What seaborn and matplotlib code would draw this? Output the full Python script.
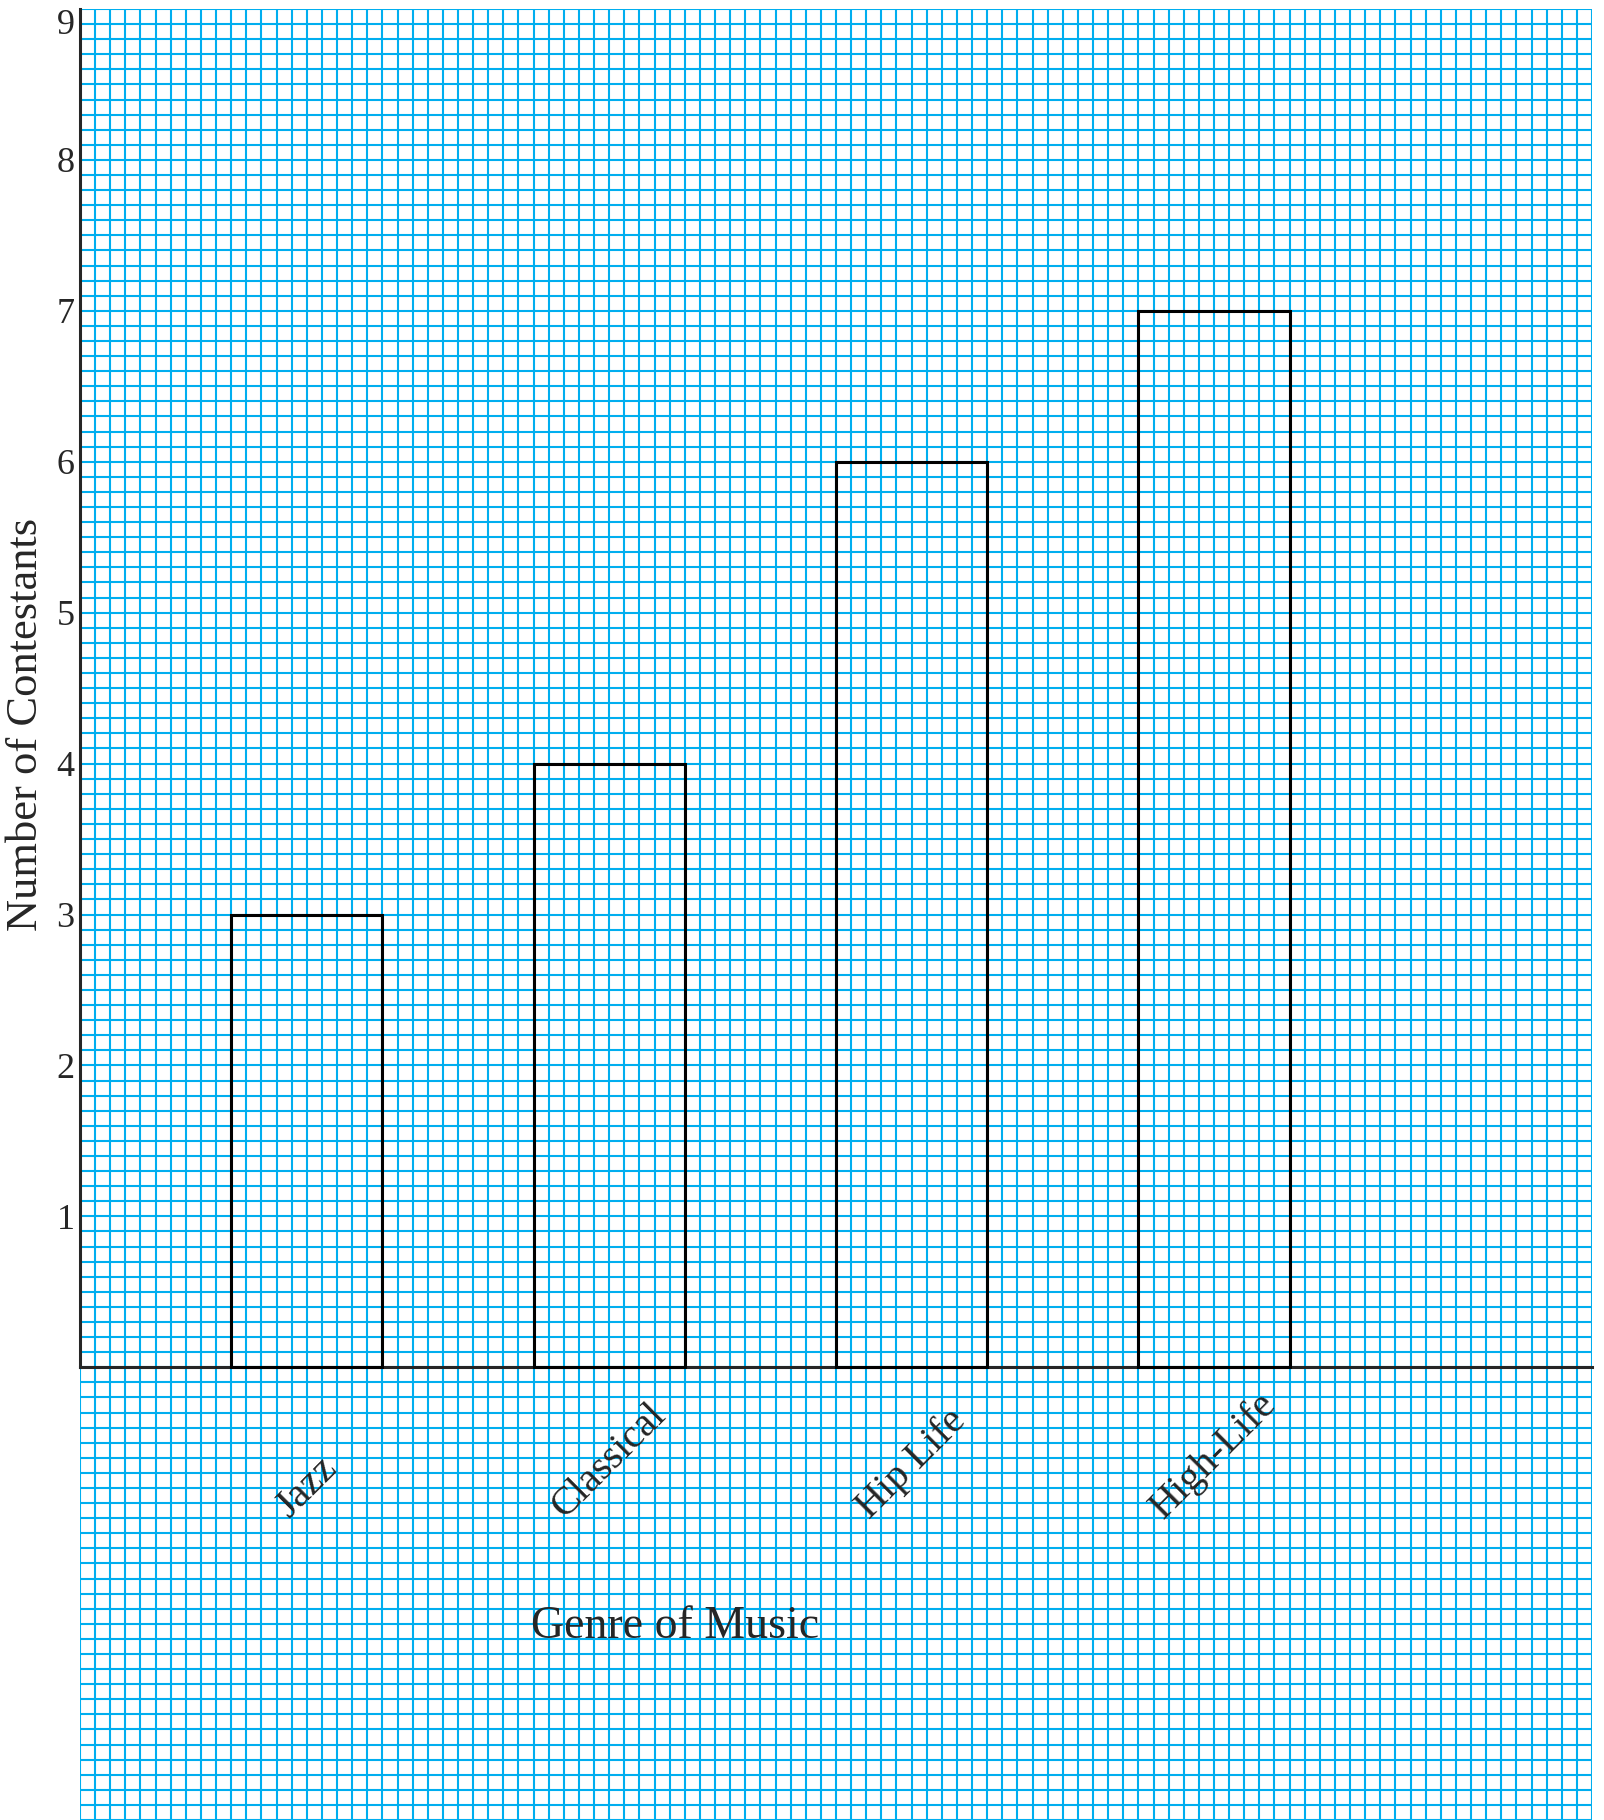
import matplotlib
matplotlib.use("Agg")
import matplotlib.pyplot as plt
from matplotlib.ticker import MultipleLocator
import seaborn as sns
import pandas as pd

# ------------------------------------------------------------
# data
# ------------------------------------------------------------
genres = ["Jazz", "Classical", "Hip Life", "High-Life"]
contestants = [3, 4, 6, 7]
y_ticks = [1, 2, 3, 4, 5, 6, 7, 8, 9]

df = pd.DataFrame({"genre": genres, "count": contestants})

sns.set_style("white")
plt.rcParams["font.family"] = ["Liberation Serif", "DejaVu Serif"]

GRID_BLUE = "#00AEEF"
XLIM = (-0.75, 4.25)   # category axis: one bar (0.5) = 10 cells
YLIM = (-3, 9)
AX_POS = [80 / 1604, 0, 1512 / 1604, 1811 / 1820]

fig = plt.figure(figsize=(16.04, 18.2), dpi=100)

# graph paper in its own axes, so all text sits on top of it
bg = fig.add_axes(AX_POS, zorder=0)
bg.set_xlim(*XLIM)
bg.set_ylim(*YLIM)
bg.xaxis.set_minor_locator(MultipleLocator(0.05))
bg.yaxis.set_minor_locator(MultipleLocator(0.1))
bg.set_xticks([])
bg.set_yticks([])
bg.tick_params(which="both", length=0)
bg.grid(which="minor", color=GRID_BLUE, linewidth=1.5)
for s in bg.spines.values():
    s.set_visible(False)

ax = fig.add_axes(AX_POS, zorder=1)
ax.patch.set_visible(False)

sns.barplot(data=df, x="genre", y="count", ax=ax, width=0.5, fill=False,
            color="black", linewidth=2.2, errorbar=None, zorder=3)

ax.set_xlim(*XLIM)
ax.set_ylim(*YLIM)
ax.grid(False)

# axes lines
for s in ["top", "right"]:
    ax.spines[s].set_visible(False)
ax.spines["bottom"].set_position(("data", 0))
ax.spines["bottom"].set_linewidth(2.2)
ax.spines["left"].set_bounds(0, 9)
ax.spines["left"].set_linewidth(2.2)

# ticks
ax.set_yticks(y_ticks)
ax.set_yticklabels([str(v) for v in y_ticks], fontsize=26)
ax.get_yticklabels()[-1].set_va("top")
ax.tick_params(axis="y", which="both", length=0, pad=4)
ax.tick_params(axis="x", which="both", length=0, pad=114)
ax.set_xticks(range(len(genres)))
ax.set_xticklabels(genres, rotation=45, fontsize=29, ha="center", va="bottom")

# axis titles
ax.set_xlabel("Genre of Music", fontsize=33, va="center")
ax.xaxis.set_label_coords(595 / 1512, 0.1065)
ax.set_ylabel("Number of Contestants", fontsize=32, va="center")
ax.yaxis.set_label_coords(-54 / 1512, 0.605)

fig.savefig("out.png", dpi=100)
